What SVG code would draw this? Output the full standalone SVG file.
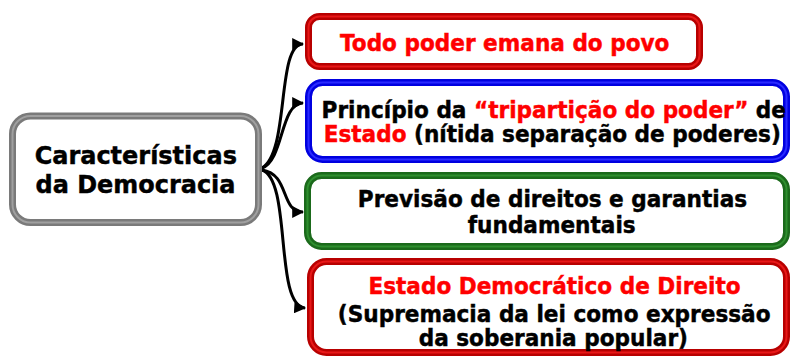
<svg xmlns="http://www.w3.org/2000/svg" width="791" height="356" viewBox="0 0 791 356">
<style>
.t{font-family:"DejaVu Sans","Liberation Sans",sans-serif;font-weight:bold;font-size:23px;fill:#000;stroke:#000;stroke-width:0.45px;text-anchor:middle}
.big{font-size:25.5px}
.r{fill:#ff0000;stroke:#ff0000}
.box{fill:#fff;stroke-width:7}
.hl{fill:none;stroke-width:2}
.gray{stroke:#7a7a7a}.grayh{stroke:#a0a0a0}
.red{stroke:#b80000}.redh{stroke:#e81818}
.blue{stroke:#0000e0}.blueh{stroke:#2a2aff}
.green{stroke:#1b6a1b}.greenh{stroke:#2f8f2f}
.c{fill:none;stroke:#000;stroke-width:3}
</style>
<defs>
<marker id="ah" viewBox="0 0 10 10" refX="9" refY="5" markerWidth="4" markerHeight="4" orient="auto" markerUnits="strokeWidth">
<path d="M0,0 L10,5 L0,10 z" fill="#000"/>
</marker>
</defs>
<rect width="791" height="356" fill="#fff"/>
<g id="connectors">
<path class="c" marker-end="url(#ah)" d="M262,168 C290,152 276,44 303,44"/>
<path class="c" marker-end="url(#ah)" d="M262,168 C284,160 280,103 303,103"/>
<path class="c" marker-end="url(#ah)" d="M262,170 C290,174 280,212 303,212"/>
<path class="c" marker-end="url(#ah)" d="M262,170 C292,180 274,306 305,308"/>
</g>
<g id="n0">
<rect class="box gray" x="12.5" y="116" width="246" height="106.5" rx="18"/>
<rect class="hl grayh" x="12.5" y="116" width="246" height="106.5" rx="18"/>
<text class="t big" transform="translate(135.8,163.5) scale(0.94,1)">Características</text>
<text class="t big" transform="translate(135.5,193) scale(0.94,1)">da Democracia</text>
</g>
<g id="n1">
<rect class="box red" x="308.5" y="16.5" width="391" height="50" rx="11"/>
<rect class="hl redh" x="308.5" y="16.5" width="391" height="50" rx="11"/>
<text class="t r" transform="translate(504.7,50.7) scale(0.94,1)">Todo poder emana do povo</text>
</g>
<g id="n2">
<rect class="box blue" x="308.5" y="82.5" width="478" height="77" rx="14"/>
<rect class="hl blueh" x="308.5" y="82.5" width="478" height="77" rx="14"/>
<text class="t" transform="translate(553.8,118) scale(0.94,1)">Princípio da <tspan class="r">“tripartição do poder”</tspan> de</text>
<text class="t" transform="translate(552.2,142) scale(0.94,1)"><tspan class="r">Estado</tspan> (nítida separação de poderes)</text>
</g>
<g id="n3">
<rect class="box green" x="307.5" y="175.5" width="479" height="71" rx="14"/>
<rect class="hl greenh" x="307.5" y="175.5" width="479" height="71" rx="14"/>
<text class="t" transform="translate(552.5,207) scale(0.94,1)">Previsão de direitos e garantias</text>
<text class="t" transform="translate(551.7,233) scale(0.94,1)">fundamentais</text>
</g>
<g id="n4">
<rect class="box red" x="310.5" y="261.5" width="476" height="91" rx="16"/>
<rect class="hl redh" x="310.5" y="261.5" width="476" height="91" rx="16"/>
<text class="t r" transform="translate(554.5,293.5) scale(0.94,1)">Estado Democrático de Direito</text>
<text class="t" transform="translate(554.2,322) scale(0.94,1)">(Supremacia da lei como expressão</text>
<text class="t" transform="translate(553.3,346) scale(0.94,1)">da soberania popular)</text>
</g>
</svg>
